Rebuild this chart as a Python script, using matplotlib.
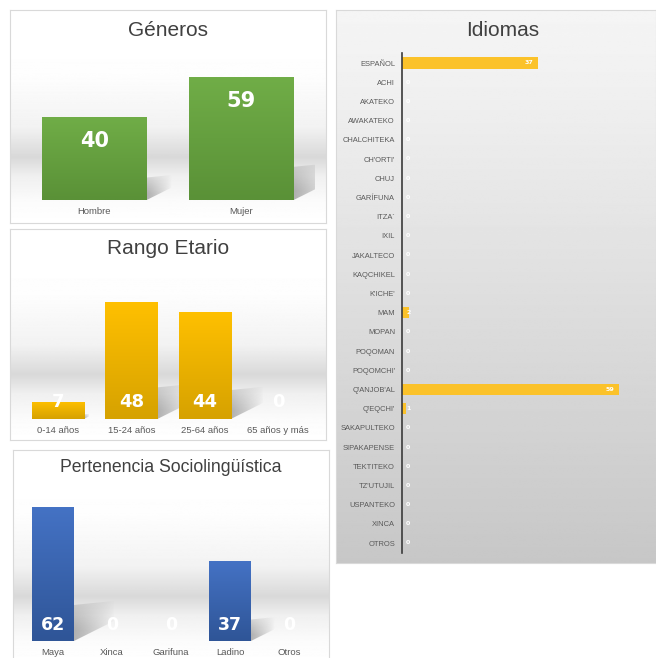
import numpy as np
import matplotlib
matplotlib.use("Agg")
import matplotlib.pyplot as plt
from matplotlib.colors import LinearSegmentedColormap
from matplotlib.patches import Polygon

plt.rcParams['font.family'] = ['Liberation Sans', 'DejaVu Sans']

# Datos
generos = ["Hombre", "Mujer"]
generos_val = [40, 59]

edades = ["0-14 años", "15-24 años", "25-64 años", "65 años y más"]
edades_val = [7, 48, 44, 0]

pertenencia = ["Maya", "Xinca", "Garifuna", "Ladino", "Otros"]
pertenencia_val = [62, 0, 0, 37, 0]

idiomas = ["ESPAÑOL", "ACHI", "AKATEKO", "AWAKATEKO", "CHALCHITEKA", "CH'ORTI'",
           "CHUJ", "GARÍFUNA", "ITZA´", "IXIL", "JAKALTECO", "KAQCHIKEL", "K'ICHE'",
           "MAM", "MOPAN", "POQOMAN", "POQOMCHI'", "Q'ANJOB'AL", "Q'EQCHI'",
           "SAKAPULTEKO", "SIPAKAPENSE", "TEKTITEKO", "TZ'UTUJIL", "USPANTEKO",
           "XINCA", "OTROS"]
idiomas_val = [37, 0, 0, 0, 0, 0, 0, 0, 0, 0, 0, 0, 0, 2, 0, 0, 0, 59, 1,
               0, 0, 0, 0, 0, 0, 0]

W, H = 656, 658
fig = plt.figure(figsize=(W / 100, H / 100), dpi=100)
GRIS_TXT = '#595959'
GRIS_TIT = '#404040'
FUENTE_VAL = 'DejaVu Sans'


# caja en pixeles (origen arriba-izquierda) -> fraccion de figura
def caja(x0, y0, x1, y1):
    return [x0 / W, 1 - y1 / H, (x1 - x0) / W, (y1 - y0) / H]


# Panel de fondo con degradado vertical
def panel(x0, y0, x1, y1, pos, val):
    ax = fig.add_axes(caja(x0, y0, x1, y1), zorder=0)
    g = np.interp(np.linspace(0, 1, 256), pos, val)
    ax.imshow(g[:, None], aspect='auto', cmap='gray', vmin=0, vmax=1,
              extent=(0, 1, 0, 1))
    ax.set_xticks([])
    ax.set_yticks([])
    for s in ax.spines.values():
        s.set_color('#d9d9d9')
        s.set_linewidth(0.8)
    return ax


# sombra suave: se desvanece hacia la derecha y hacia arriba
u = np.linspace(0, 1, 48)[None, :]
vv = np.linspace(1, 0, 48)[:, None]
SOMBRA = np.zeros((48, 48, 4))
SOMBRA[..., :3] = 0.3
SOMBRA[..., 3] = 0.42 * (1 - u) ** 0.8 * np.clip(1.25 - vv, 0, 1) ** 0.8


# Barras con degradado (claro arriba, oscuro abajo) y sombra
def barras(ax, cats, vals, ymax, c_top, c_bot, ancho=0.71):
    ax.set_xlim(-0.5, len(cats) - 0.5)
    ax.set_ylim(0, ymax)
    pos = ax.get_position()
    px_x = pos.width * W / len(cats)      # pixeles por unidad x
    px_y = pos.height * H / ymax          # pixeles por unidad y
    cmap = LinearSegmentedColormap.from_list('b', [c_bot, c_top])
    x = np.arange(len(cats))
    bars = ax.bar(x, vals, width=ancho, color=c_top, zorder=2)
    for r, v in zip(bars, vals):
        if v <= 0:
            continue
        x0, w = r.get_x(), r.get_width()
        xr = x0 + w
        d = 0.3 * v * px_y / px_x
        poly = Polygon([(xr, 0), (xr, 0.27 * v), (xr + d, 0.3 * v),
                        (xr + d, 0.15 * v)], closed=True, facecolor='none',
                       edgecolor='none')
        ax.add_patch(poly)
        im_s = ax.imshow(SOMBRA, aspect='auto', extent=(xr, xr + d, 0, 0.3 * v),
                         zorder=1, interpolation='bilinear')
        im_s.set_clip_path(poly)
        im = ax.imshow(np.linspace(1, 0, 64)[:, None], cmap=cmap, aspect='auto',
                       extent=(x0, xr, 0, v), zorder=3, vmin=0, vmax=1)
        im.set_clip_path(r)
    ax.set_xticks(x)
    ax.set_xticklabels(cats, fontsize=6.8, color=GRIS_TXT)
    ax.tick_params(length=0, pad=5)
    for s in ax.spines.values():
        s.set_visible(False)
    ax.set_yticks([])
    ax.set_xlim(-0.5, len(cats) - 0.5)
    ax.set_ylim(0, ymax)
    ax.patch.set_alpha(0)
    return bars


fondo_izq = ([0, 0.3, 0.55, 0.69, 0.78, 0.9, 1.0],
             [1.0, 0.995, 0.95, 0.85, 0.94, 0.985, 1.0])

# ---------------- Géneros ----------------
panel(10, 10, 326, 223, *fondo_izq)
ax1 = fig.add_axes(caja(21, 75, 315, 200), zorder=1)
barras(ax1, generos, generos_val, 60, '#70ad47', '#5a9137')
for i, v in enumerate(generos_val):
    ax1.annotate(str(v), (i, v), xytext=(0, -17.5), textcoords='offset points',
                 ha='center', va='center', color='white', fontsize=15,
                 fontweight='bold', family=FUENTE_VAL, zorder=5)
fig.text(168 / W, 1 - 30 / H, "Géneros", ha='center', va='center',
         fontsize=15, color=GRIS_TIT)

# ---------------- Rango Etario ----------------
panel(10, 229, 326, 440, *fondo_izq)
ax2 = fig.add_axes(caja(21, 297, 315, 419), zorder=1)
barras(ax2, edades, edades_val, 50, '#ffc000', '#d6a200')
for i, v in enumerate(edades_val):
    ax2.annotate(str(v), (i, 0), xytext=(0, 12.5), textcoords='offset points',
                 ha='center', va='center', color='white', fontsize=13,
                 fontweight='bold', family=FUENTE_VAL, zorder=5)
fig.text(168 / W, 1 - 249 / H, "Rango Etario", ha='center', va='center',
         fontsize=15, color=GRIS_TIT)

# ---------------- Pertenencia Sociolingüística ----------------
panel(13, 450, 329, 662, *fondo_izq)
ax3 = fig.add_axes(caja(23.5, 501, 318.5, 641), zorder=1)
barras(ax3, pertenencia, pertenencia_val, 65, '#4472c4', '#2f5597')
for i, v in enumerate(pertenencia_val):
    ax3.annotate(str(v), (i, 0), xytext=(0, 11.5), textcoords='offset points',
                 ha='center', va='center', color='white', fontsize=12.5,
                 fontweight='bold', family=FUENTE_VAL, zorder=5)
fig.text(171 / W, 1 - 468 / H, "Pertenencia Sociolingüística", ha='center',
         va='center', fontsize=12.7, color=GRIS_TIT)

# ---------------- Idiomas ----------------
panel(336, 10, 656, 563, [0, 0.15, 1.0], [0.96, 0.94, 0.78])
ax4 = fig.add_axes(caja(402, 53.4, 640.6, 552.6), zorder=1)
y = np.arange(len(idiomas))
ax4.barh(y, idiomas_val, height=0.6, color='#fbc22a', zorder=2)
ax4.set_ylim(len(idiomas) - 0.5, -0.5)
ax4.set_xlim(0, 65)
ax4.set_yticks(y)
ax4.set_yticklabels(idiomas, fontsize=5.4, color=GRIS_TXT)
ax4.set_xticks([])
ax4.tick_params(length=0, pad=5)
for k in ['top', 'right', 'bottom']:
    ax4.spines[k].set_visible(False)
ax4.spines['left'].set_color('#3a3a3a')
ax4.spines['left'].set_linewidth(1.2)
ax4.patch.set_alpha(0)
for i, v in enumerate(idiomas_val):
    if v >= 5:
        ax4.annotate(str(v), (v, i), xytext=(-3, 0), textcoords='offset points',
                     ha='right', va='center', color='white', fontsize=4.5,
                     fontweight='bold', family=FUENTE_VAL, zorder=5)
    else:
        ax4.annotate(str(v), (0, i), xytext=(3, 0), textcoords='offset points',
                     ha='left', va='center', color='white', fontsize=4.5,
                     fontweight='bold', family=FUENTE_VAL, zorder=5)
fig.text(503 / W, 1 - 30 / H, "Idiomas", ha='center', va='center',
         fontsize=15, color=GRIS_TIT)

fig.savefig("out.png", dpi=100)
